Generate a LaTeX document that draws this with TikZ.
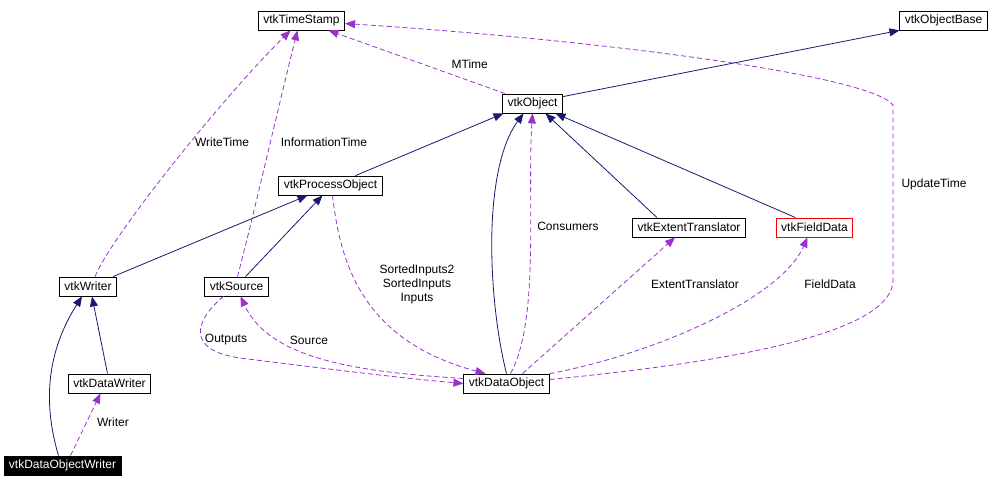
\documentclass[tikz,border=0pt]{standalone}
\usepackage{fontspec}
\setmainfont{Liberation Sans}
\usepackage{tikz}
\usetikzlibrary{arrows.meta}
\definecolor{inhcol}{RGB}{25,25,112}
\definecolor{usecol}{RGB}{153,50,204}
\tikzset{
  cls/.style={draw=black, fill=white, line width=0.8pt, inner xsep=5pt, inner ysep=0pt, minimum height=19pt},
  inh/.style={draw=inhcol, line width=0.8pt, -{Triangle[length=10pt,width=8pt]}},
  usage/.style={draw=usecol, line width=0.8pt, dash pattern=on 5pt off 3pt, -{Triangle[length=10pt,width=8pt]}},
  lbl/.style={inner sep=0pt}
}
\begin{document}
\begin{tikzpicture}[x=1pt,y=-1pt,font=\fontsize{12}{14}\selectfont]
  \useasboundingbox (0,0) rectangle (992,488);
  % classes
  \node[cls] (ts) at (301.5,20.5) {vtkTimeStamp};
  \node[cls] (objbase) at (943.5,20.5) {vtkObjectBase};
  \node[cls] (obj) at (532.5,103.5) {vtkObject};
  \node[cls] (proc) at (330.5,185.5) {vtkProcessObject};
  \node[cls] (ext) at (689,227.5) {vtkExtentTranslator};
  \node[cls,draw=red] (field) at (814.5,227.5) {vtkFieldData};
  \node[cls] (writer) at (88,286.5) {vtkWriter};
  \node[cls] (source) at (236.5,286.5) {vtkSource};
  \node[cls] (dwriter) at (109.5,383.5) {vtkDataWriter};
  \node[cls] (dataobj) at (506.5,383.5) {vtkDataObject};
  \node[cls,fill=black,text=white] (dowriter) at (62.5,465.5) {vtkDataObjectWriter};

  % inheritance
  \draw[inh] ([yshift=-3pt]obj.north east) -- (objbase.south west);
  \draw[inh] ([xshift=25pt]proc.north) -- ([xshift=-29pt]obj.south);
  \draw[inh] (dataobj.north) .. controls (488,300) and (482,170) .. ([xshift=-9pt]obj.south);
  \draw[inh] ([xshift=-32pt]ext.north) -- ([xshift=13pt]obj.south);
  \draw[inh] ([xshift=-19pt]field.north) -- ([xshift=23pt]obj.south);
  \draw[inh] ([xshift=25pt]writer.north) -- ([xshift=-23pt]proc.south);
  \draw[inh] ([xshift=9pt]source.north) -- ([xshift=-8pt]proc.south);
  \draw[inh] ([xshift=-2pt]dwriter.north) -- ([xshift=4pt]writer.south);
  \draw[inh] ([xshift=-4pt]dowriter.north) .. controls (42,400) and (48,350) .. ([xshift=-6pt]writer.south);

  % usage
  \draw[usage] ([xshift=3pt]obj.north west) -- ([xshift=27pt]ts.south)
    node[lbl,pos=0.2,above=12pt] {MTime};
  \draw[usage] ([xshift=7pt]writer.north) .. controls (112,235) and (225,95) .. ([xshift=-11pt]ts.south);
  \node[lbl] (lwrite) at (222,142) {WriteTime};
  \draw[usage] ([xshift=1pt]source.north) .. controls (250,230) and (280,100) .. ([xshift=-4pt]ts.south);
  \node[lbl] (linfo) at (324,142) {InformationTime};
  \draw[usage] ([yshift=4pt]dataobj.east) .. controls (750,360) and (893,330) .. (893,280)
    -- (893,105) .. controls (870,75) and (600,40) .. ([yshift=-3pt]ts.east);
  \node[lbl] (lupd) at (934,184) {UpdateTime};
  \draw[usage] ([xshift=4pt]dataobj.north) .. controls (540,320) and (527,200) .. (obj.south);
  \node[lbl] (lcons) at (568,226) {Consumers};
  \draw[usage] ([xshift=2pt]proc.south) .. controls (340,260) and (360,340) .. ([xshift=-21pt]dataobj.north);
  \node[lbl,align=center] (linp) at (417,284) {SortedInputs2\\SortedInputs\\Inputs};
  \draw[usage] ([xshift=16pt]dataobj.north) -- ([xshift=-14pt]ext.south);
  \node[lbl] (lext) at (695,284) {ExtentTranslator};
  \draw[usage] (dataobj.north east) .. controls (650,355) and (780,300) .. ([xshift=-7pt]field.south);
  \node[lbl] (lfield) at (830,284) {FieldData};
  \draw[usage] ([xshift=-13pt]source.south) .. controls (195,320) and (185,350) .. (240,358)
    .. controls (320,368) and (400,378) .. (dataobj.west);
  \node[lbl] (lout) at (226,340) {Outputs};
  \draw[usage] ([yshift=5pt]dataobj.west) .. controls (360,372) and (270,360) .. ([xshift=4pt]source.south);
  \node[lbl] (lsrc) at (309,340) {Source};
  \draw[usage] ([xshift=8pt]dowriter.north) -- ([xshift=-9pt]dwriter.south);
  \node[lbl] (lwr) at (113,422) {Writer};
\end{tikzpicture}
\end{document}
